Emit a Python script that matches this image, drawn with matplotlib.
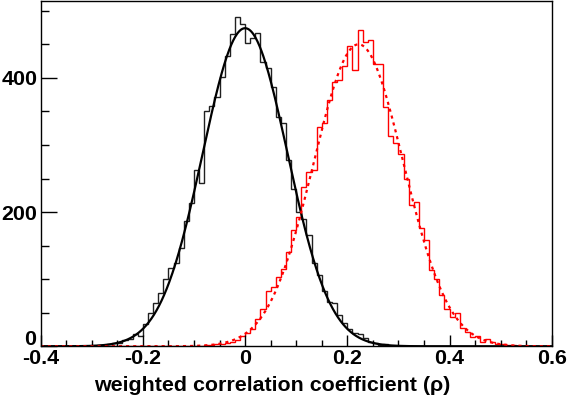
import numpy as np
import matplotlib
matplotlib.use("Agg")
import matplotlib.pyplot as plt
from matplotlib.ticker import MultipleLocator

plt.rcParams["font.family"] = ["Liberation Sans", "DejaVu Sans"]
plt.rcParams["font.weight"] = "bold"

# 100 bins of 0.01 from -0.4 to 0.6
bin_edges = np.linspace(-0.4, 0.6, 101)

black_counts = [
    0, 0, 0, 0, 0, 0, 0, 0, 1, 1,
    1, 2, 2, 3, 5, 5, 10, 11, 18, 15,
    33, 50, 65, 80, 100, 117, 124, 146, 186, 214,
    263, 244, 350, 358, 372, 401, 432, 465, 491, 480,
    452, 459, 467, 423, 414, 387, 342, 333, 278, 235,
    200, 190, 166, 124, 106, 82, 66, 64, 47, 35,
    26, 20, 19, 12, 7, 5, 2, 3, 1, 1,
    1, 0, 0, 0, 0, 0, 0, 0, 0, 0,
    0, 0, 0, 0, 0, 0, 0, 0, 0, 0,
    0, 0, 0, 0, 0, 0, 0, 0, 0, 0,
]

red_counts = [
    0, 0, 0, 0, 0, 0, 0, 0, 0, 0,
    0, 0, 0, 0, 0, 0, 0, 0, 0, 0,
    0, 0, 0, 0, 0, 0, 0, 0, 0, 1,
    1, 1, 2, 2, 3, 4, 5, 7, 9, 16,
    20, 26, 41, 56, 83, 89, 103, 115, 141, 173,
    193, 238, 260, 263, 327, 333, 367, 394, 397, 417,
    447, 412, 471, 454, 457, 420, 420, 356, 313, 303,
    287, 249, 210, 215, 177, 158, 113, 100, 76, 56,
    44, 50, 28, 21, 14, 15, 7, 11, 6, 4,
    3, 2, 2, 1, 1, 1, 0, 0, 0, 0,
]

# gaussian fit results: constant, mean, sigma
black_fit = (474.0, 0.0, 0.083)
red_fit = (450.0, 0.222, 0.088)

x_ticks = [-0.4, -0.2, 0.0, 0.2, 0.4, 0.6]
x_tick_labels = ["-0.4", "-0.2", "0", "0.2", "0.4", "0.6"]
y_ticks = [0, 200, 400]
y_tick_labels = ["", "200", "400"]

FONT_SIZE = 15.4


def gaus(params, x):
    const, mean, sigma = params
    return const * np.exp(-0.5 * ((x - mean) / sigma) ** 2)


fig = plt.figure(figsize=(5.68, 3.99), dpi=100)
ax = fig.add_axes([0.0717, 0.1321, 0.8996, 0.8662])

ax.stairs(black_counts, bin_edges, color="#202020", lw=1.0)
ax.stairs(red_counts, bin_edges, color="red", lw=1.0)

xs = np.linspace(-0.4, 0.6, 800)
ax.plot(xs, gaus(black_fit, xs), color="black", lw=1.6)
ax.plot(xs, gaus(red_fit, xs), color="red", lw=1.6, ls=(0, (1.4, 1.8)))

ax.set_xlim(-0.4, 0.6)
ax.set_ylim(0, 515)

ax.set_xticks(x_ticks)
ax.set_xticklabels(x_tick_labels)
ax.xaxis.set_minor_locator(MultipleLocator(0.05))
ax.set_yticks(y_ticks)
ax.set_yticklabels(y_tick_labels)
ax.yaxis.set_minor_locator(MultipleLocator(50))

ax.tick_params(which="both", direction="in", top=False, right=False,
               labelsize=FONT_SIZE, width=1.0, color="black")
ax.xaxis.set_tick_params(which="major", length=8, pad=2.0)
ax.xaxis.set_tick_params(which="minor", length=4)
ax.yaxis.set_tick_params(which="major", length=11.5, pad=2.5)
ax.yaxis.set_tick_params(which="minor", length=5.8)

# ROOT lifts the zero label off the x labels
ax.annotate("0", xy=(0, 0), xycoords=("axes fraction", "data"),
            xytext=(-3.5, 5), textcoords="offset points",
            ha="right", va="center", fontsize=FONT_SIZE, fontweight="bold")

for spine in ax.spines.values():
    spine.set_linewidth(1.0)
    spine.set_color("black")

fig.text(272.5 / 568, 0.02, "weighted correlation coefficient (\u03c1)",
         ha="center", va="baseline", fontsize=FONT_SIZE, fontweight="bold")

fig.savefig("out.png", dpi=100)
